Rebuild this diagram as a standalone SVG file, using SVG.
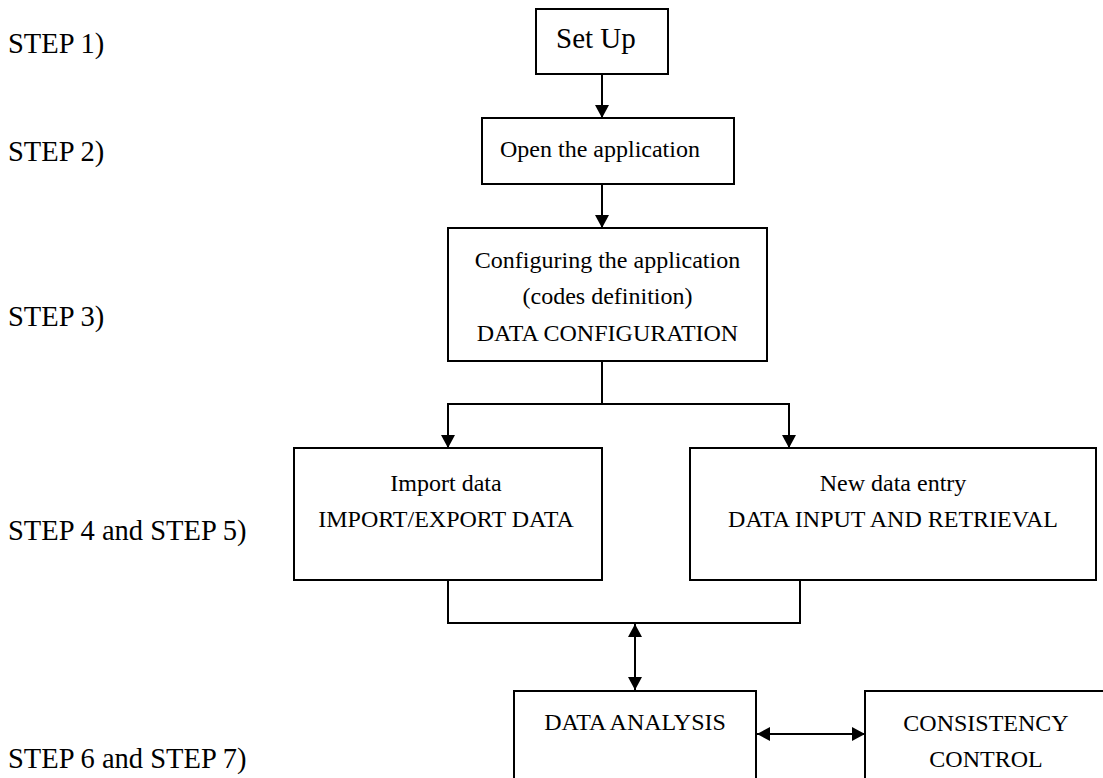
<svg xmlns="http://www.w3.org/2000/svg" width="1103" height="778" viewBox="0 0 1103 778">
<style>
.box{fill:#fff;stroke:#000;stroke-width:2}
.ln{fill:none;stroke:#000;stroke-width:2}
.t{font-family:"Liberation Serif","Times New Roman",serif;font-size:24px;fill:#000}
.c{text-anchor:middle}
.step{font-family:"Liberation Serif","Times New Roman",serif;font-size:28.5px;fill:#000}
</style>
<defs>
<marker id="ah" markerUnits="userSpaceOnUse" markerWidth="14" markerHeight="14" refX="13" refY="7" orient="auto-start-reverse" viewBox="0 0 14 14">
<path d="M0,0 L13,7 L0,14 z" fill="#000"/>
</marker>
</defs>
<rect width="1103" height="778" fill="#fff"/>
<g id="steps">
<text class="step" x="8" y="53">STEP 1)</text>
<text class="step" x="8" y="161">STEP 2)</text>
<text class="step" x="8" y="326">STEP 3)</text>
<text class="step" x="8" y="540">STEP 4 and STEP 5)</text>
<text class="step" x="8" y="768">STEP 6 and STEP 7)</text>
</g>
<g id="connectors">
<line class="ln" x1="602" y1="74" x2="602" y2="118" marker-end="url(#ah)"/>
<line class="ln" x1="602" y1="184" x2="602" y2="228" marker-end="url(#ah)"/>
<polyline class="ln" points="602,361 602,404"/>
<polyline class="ln" points="448,404 789,404"/>
<line class="ln" x1="448" y1="403" x2="448" y2="448" marker-end="url(#ah)"/>
<line class="ln" x1="789" y1="403" x2="789" y2="448" marker-end="url(#ah)"/>
<polyline class="ln" points="448,580 448,623 800,623 800,580"/>
<line class="ln" x1="635" y1="624" x2="635" y2="690" marker-start="url(#ah)" marker-end="url(#ah)"/>
<line class="ln" x1="757" y1="734" x2="865" y2="734" marker-start="url(#ah)" marker-end="url(#ah)"/>
</g>
<g id="setup">
<rect class="box" x="536" y="9" width="132" height="65"/>
<text class="t" x="556" y="48" style="font-size:29px">Set Up</text>
</g>
<g id="open">
<rect class="box" x="482" y="118" width="252" height="66"/>
<text class="t" x="500" y="157">Open the application</text>
</g>
<g id="config">
<rect class="box" x="448" y="228" width="319" height="133"/>
<text class="t c" x="607.5" y="268">Configuring the application</text>
<text class="t c" x="607.5" y="304">(codes definition)</text>
<text class="t c" x="607.5" y="341">DATA CONFIGURATION</text>
</g>
<g id="import">
<rect class="box" x="294" y="448" width="308" height="132"/>
<text class="t c" x="446" y="491">Import data</text>
<text class="t c" x="446" y="527">IMPORT/EXPORT DATA</text>
</g>
<g id="newdata">
<rect class="box" x="690" y="448" width="406" height="132"/>
<text class="t c" x="893" y="491">New data entry</text>
<text class="t c" x="893" y="527">DATA INPUT AND RETRIEVAL</text>
</g>
<g id="analysis">
<rect class="box" x="514" y="691" width="242" height="110"/>
<text class="t c" x="635" y="730">DATA ANALYSIS</text>
</g>
<g id="consistency">
<rect class="box" x="865" y="691" width="242" height="110"/>
<text class="t c" x="986" y="731">CONSISTENCY</text>
<text class="t c" x="986" y="767">CONTROL</text>
</g>
</svg>
